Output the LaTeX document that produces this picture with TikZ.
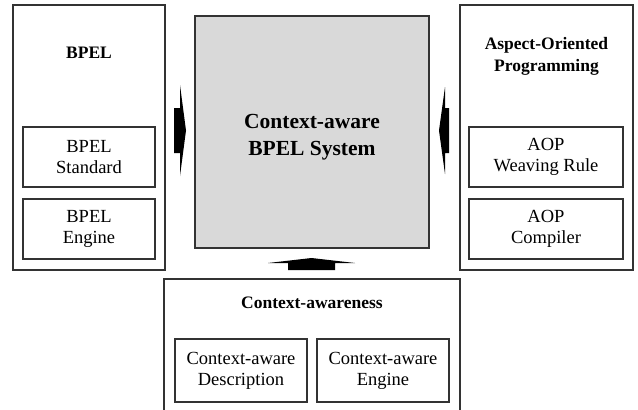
\documentclass[tikz,border=0pt]{standalone}
\usepackage{fontspec}
\setmainfont{Liberation Serif}

\begin{document}
\begin{tikzpicture}[x=1pt,y=-1pt,
  frame/.style={draw=black!80, line width=1.1pt, rectangle, inner sep=0pt},
  outerbox/.style={frame, minimum width=#1, minimum height=265pt},
  innerbox/.style={frame, minimum width=#1, minimum height=60pt,
    align=center, font=\fontsize{18.5}{21}\selectfont},
  title/.style={align=center, inner sep=0pt, font=\bfseries\fontsize{17.5}{22}\selectfont},
  fatarrow/.style={fill=black, draw=none},
]
\useasboundingbox (0,0) rectangle (638,410);

% side modules
\node[outerbox=152pt] (bpel) at (89,137.5) {};
\node[title] (bpeltitle) at (89,53) {BPEL};
\node[innerbox=132pt] (bpelstd) at (89,157) {BPEL\\Standard};
\node[innerbox=132pt] (bpeleng) at (89,229) {BPEL\\Engine};

\node[outerbox=173pt] (aop) at (546.5,137.5) {};
\node[title] (aoptitle) at (546.5,56) {Aspect-Oriented\\Programming};
\node[innerbox=154pt] (aoprule) at (546,157) {AOP\\Weaving Rule};
\node[innerbox=154pt] (aopcomp) at (546,229) {AOP\\Compiler};

% central system
\node[frame, fill=black!15, minimum width=234pt, minimum height=232pt] (core) at (312,132) {};
\node[align=center, inner sep=0pt, font=\bfseries\fontsize{21.5}{27}\selectfont]
  (coretitle) at (312,137) {Context-aware\\BPEL System};

% context-awareness module (runs past the lower edge)
\node[frame, minimum width=296pt, minimum height=135pt] (ctx) at (312,346.5) {};
\node[title] (ctxtitle) at (312,303) {Context-awareness};
\node[innerbox=132pt, minimum height=63pt] (ctxdesc) at (241,370.5) {Context-aware\\Description};
\node[innerbox=132pt, minimum height=63pt] (ctxeng) at (383,370.5) {Context-aware\\Engine};

% block arrows into the central system
\coordinate (la) at (174,130.5);
\coordinate (ra) at (449,130.5);
\coordinate (ba) at (311.5,270);
\fill[fatarrow] (la) ++(0,-22.5) -- ++(6,0) -- ++(0,-23) -- ++(6,45.5)
  -- ++(-6,45.5) -- ++(0,-23) -- ++(-6,0) -- cycle;
\fill[fatarrow] (ra) ++(0,-22.5) -- ++(-4,0) -- ++(0,-21) -- ++(-6,43.5)
  -- ++(6,43.5) -- ++(0,-21) -- ++(4,0) -- cycle;
\fill[fatarrow] (ba) ++(-23.5,0) -- ++(0,-7) -- ++(-20,0) -- ++(43.5,-5)
  -- ++(43.5,5) -- ++(-20,0) -- ++(0,7) -- cycle;
\end{tikzpicture}
\end{document}
